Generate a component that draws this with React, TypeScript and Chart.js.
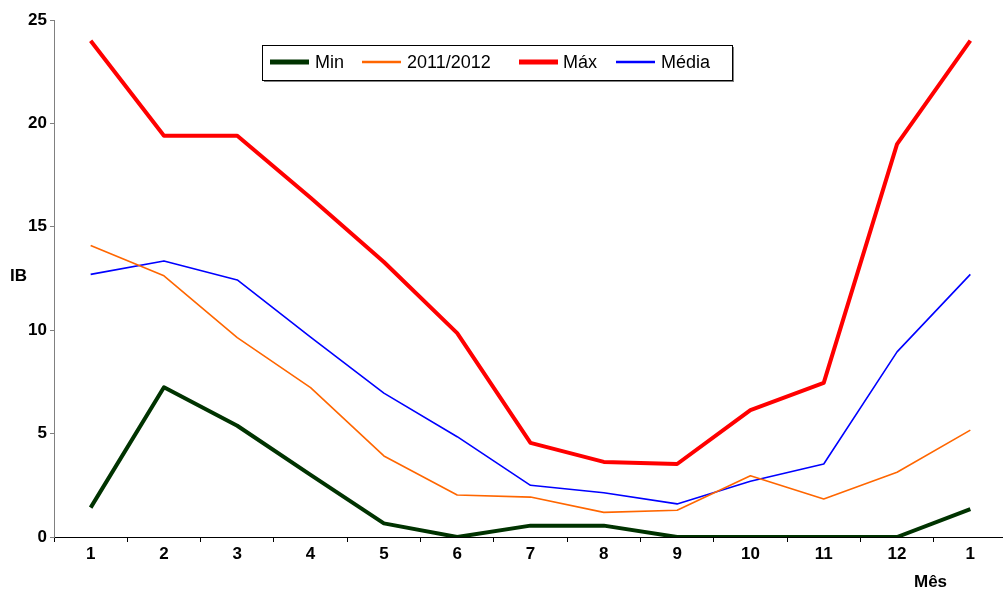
import React, { useEffect, useRef } from "react";
import { Chart, registerables } from "chart.js";

Chart.register(...registerables);

const months = ["1", "2", "3", "4", "5", "6", "7", "8", "9", "10", "11", "12", "1"];
const minValues = [1.42, 7.24, 5.38, 3.0, 0.66, 0, 0.55, 0.55, 0, 0, 0, 0, 1.35];
const season2011 = [14.1, 12.63, 9.64, 7.22, 3.92, 2.03, 1.93, 1.19, 1.29, 2.96, 1.84, 3.13, 5.17];
const maxValues = [24.0, 19.4, 19.4, 16.4, 13.3, 9.86, 4.55, 3.63, 3.53, 6.14, 7.45, 19.0, 24.0];
const meanValues = [12.7, 13.35, 12.43, 9.67, 6.96, 4.85, 2.5, 2.14, 1.6, 2.7, 3.53, 8.95, 12.7];
const yTicks = [0, 5, 10, 15, 20, 25];

const seriesNames = ["Min", "2011/2012", "Máx", "Média"];
const seriesColors = ["#003300", "#FF6600", "#FF0000", "#0000FF"];
const seriesWidths = [4, 1.6, 4, 1.6];

const FONT = "'Liberation Sans', Arial, sans-serif";

const overlayPlugin = {
  id: "overlay",
  afterDraw(chart: any) {
    const ctx = chart.ctx;
    ctx.save();
    // axis titles
    ctx.fillStyle = "#000";
    ctx.font = `bold 17px ${FONT}`;
    ctx.textBaseline = "middle";
    ctx.textAlign = "left";
    ctx.fillText("IB", 10, 276);
    ctx.fillText("Mês", 914, 582);

    // legend box
    const bx = 262, by = 45, bw = 470, bh = 35;
    ctx.fillStyle = "#808080";
    ctx.fillRect(bx + 2, by + bh, bw, 2);
    ctx.fillRect(bx + bw, by + 2, 2, bh);
    ctx.fillStyle = "#fff";
    ctx.fillRect(bx, by, bw, bh);
    ctx.strokeStyle = "#000";
    ctx.lineWidth = 1;
    ctx.strokeRect(bx + 0.5, by + 0.5, bw, bh);

    const sampleX = [270, 362, 519, 616];
    const textX = [315, 407, 563, 661];
    const cy = 62;
    ctx.font = `18px ${FONT}`;
    ctx.textBaseline = "middle";
    for (let i = 0; i < seriesNames.length; i++) {
      ctx.strokeStyle = seriesColors[i];
      ctx.lineWidth = seriesWidths[i] + 1;
      ctx.beginPath();
      ctx.moveTo(sampleX[i], cy);
      ctx.lineTo(sampleX[i] + 39, cy);
      ctx.stroke();
      ctx.fillStyle = "#000";
      ctx.fillText(seriesNames[i], textX[i], cy + 1);
    }
    ctx.restore();
  },
};

export default function App() {
  const canvasRef = useRef<HTMLCanvasElement | null>(null);

  useEffect(() => {
    document.body.style.margin = "0";
    const canvas = canvasRef.current;
    if (!canvas) return;
    const seriesData = [minValues, season2011, maxValues, meanValues];
    const chart = new Chart(canvas, {
      type: "line",
      data: {
        labels: months,
        datasets: seriesData.map((d, i) => ({
          label: seriesNames[i],
          data: d,
          borderColor: seriesColors[i],
          backgroundColor: seriesColors[i],
          borderWidth: seriesWidths[i],
          pointRadius: 0,
          tension: 0,
          fill: false,
          borderJoinStyle: "round" as const,
        })),
      },
      options: {
        animation: false,
        responsive: false,
        maintainAspectRatio: false,
        layout: { padding: { top: 20, right: 0, left: 0, bottom: 0 } },
        plugins: {
          legend: { display: false },
          tooltip: { enabled: false },
        },
        scales: {
          x: {
            type: "category",
            offset: true,
            grid: {
              offset: true,
              drawOnChartArea: false,
              drawTicks: true,
              tickLength: 5,
              color: "#000",
            },
            border: { display: true, color: "#000", width: 1 },
            ticks: {
              color: "#000",
              font: { family: FONT, size: 17, weight: "bold" },
              padding: 2,
              maxRotation: 0,
              autoSkip: false,
            },
            afterFit: (scale: any) => {
              scale.height = 57;
            },
          },
          y: {
            min: 0,
            max: 25,
            afterBuildTicks: (scale: any) => {
              scale.ticks = yTicks.map((v) => ({ value: v }));
            },
            grid: {
              drawOnChartArea: false,
              drawTicks: true,
              tickLength: 4,
              color: "#808080",
            },
            border: { display: true, color: "#808080", width: 1 },
            ticks: {
              color: "#000",
              font: { family: FONT, size: 17, weight: "bold" },
              padding: 3,
            },
            afterFit: (scale: any) => {
              scale.width = 54;
            },
          },
        },
      },
      plugins: [overlayPlugin],
    });
    return () => chart.destroy();
  }, []);

  return (
    <div style={{ width: 1003, height: 594, overflow: "hidden" }}>
      <canvas ref={canvasRef} width={1007} height={594} style={{ display: "block" }} />
    </div>
  );
}
